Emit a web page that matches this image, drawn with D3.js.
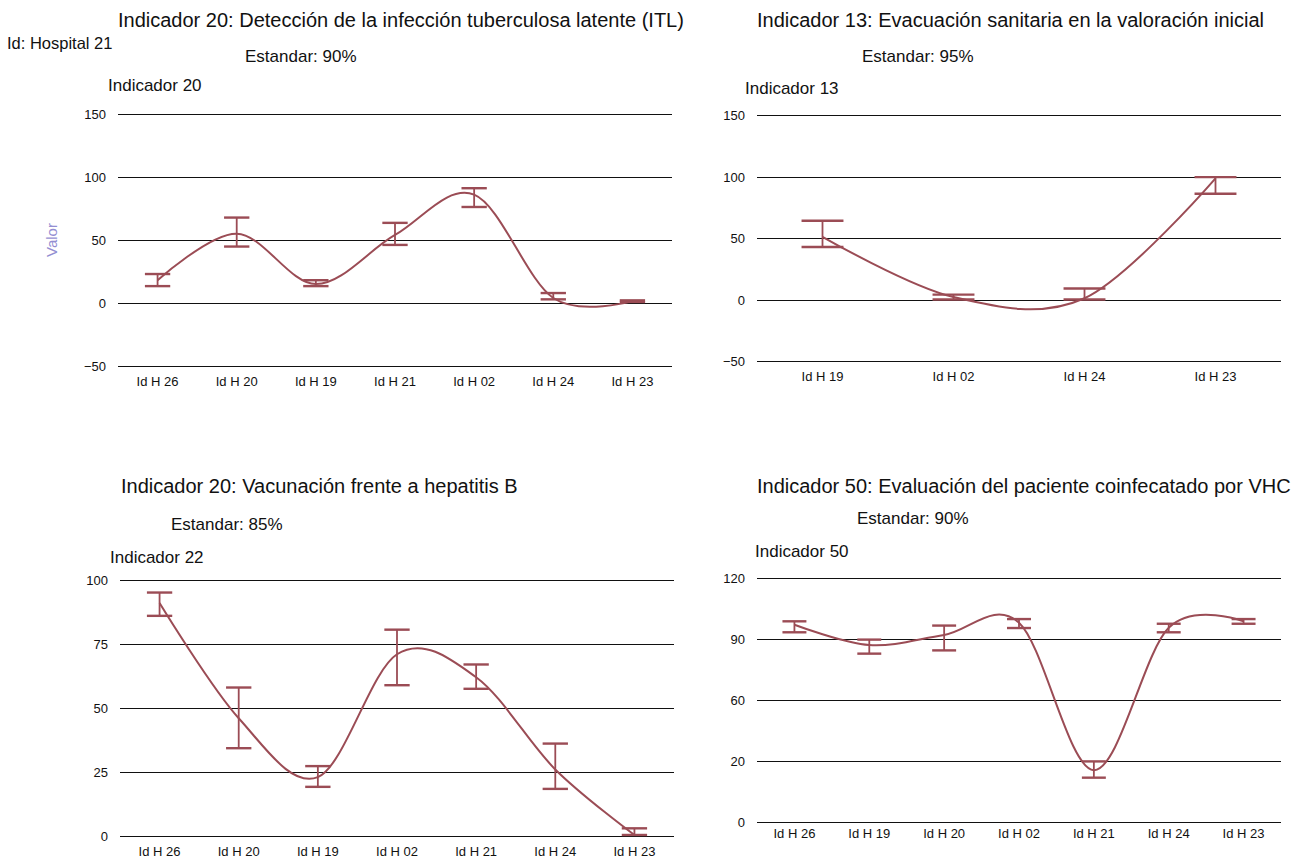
<!DOCTYPE html>
<html>
<head>
<meta charset="utf-8">
<script src="https://cdn.jsdelivr.net/npm/d3@7"></script>
<style>
  html, body { margin: 0; padding: 0; background: #fff; }
  svg { display: block; font-family: "Liberation Sans", Arial, Helvetica, sans-serif; }
</style>
</head>
<body>
<svg id="chart" width="1300" height="858"></svg>
<script>
// ---- Indicador 20: Detección de la infección tuberculosa latente (ITL)
const itlCategories = ["Id H 26", "Id H 20", "Id H 19", "Id H 21", "Id H 02", "Id H 24", "Id H 23"];
const itlValues     = [18, 55, 15, 54, 86, 4, 1.5];
const itlLow        = [13.4, 44.8, 13.4, 46.1, 76.2, 2.9, 0.8];
const itlHigh       = [23.0, 67.8, 18.1, 63.6, 91.1, 7.9, 2.1];
const itlTicks      = [-50, 0, 50, 100, 150];
const itlTickLabels = ["\u221250", "0", "50", "100", "150"];

// ---- Indicador 13: Evacuación sanitaria en la valoración inicial
const evaCategories = ["Id H 19", "Id H 02", "Id H 24", "Id H 23"];
const evaValues     = [51, 2, 1, 98.5];
const evaLow        = [42.7, 0, 0, 86];
const evaHigh       = [64, 4, 9, 99.5];
const evaTicks      = [-50, 0, 50, 100, 150];
const evaTickLabels = ["\u221250", "0", "50", "100", "150"];

// ---- Indicador 22: Vacunación frente a hepatitis B
const vhbCategories = ["Id H 26", "Id H 20", "Id H 19", "Id H 02", "Id H 21", "Id H 24", "Id H 23"];
const vhbValues     = [91, 46, 23, 71, 62, 26, 0.4];
const vhbLow        = [86.0, 34.3, 19.2, 58.9, 57.5, 18.4, 0.4];
const vhbHigh       = [95.1, 58.0, 27.3, 80.6, 67.0, 36.1, 3.0];
const vhbTicks      = [0, 25, 50, 75, 100];
const vhbTickLabels = ["0", "25", "50", "75", "100"];

// ---- Indicador 50: Evaluación del paciente coinfectado por VHC
const vhcCategories = ["Id H 26", "Id H 19", "Id H 20", "Id H 02", "Id H 21", "Id H 24", "Id H 23"];
const vhcValues     = [97, 87, 92, 98, 25.5, 95.5, 98.7];
const vhcLow        = [93.3, 82.8, 84.4, 95.4, 21.8, 93.3, 97.5];
const vhcHigh       = [98.7, 89.7, 96.6, 99.8, 29.8, 97.5, 99.8];
const vhcTicks      = [0, 30, 60, 90, 120];
const vhcTickLabels = ["0", "20", "60", "90", "120"];

const LINE_COLOR = "#9b4c55";

const panels = [
  {
    categories: itlCategories, values: itlValues, low: itlLow, high: itlHigh,
    ticks: itlTicks, tickLabels: itlTickLabels, domain: [-50, 150],
    x0: 118, x1: 672, yTop: 114, yBottom: 366, labelY: 381,
    title: "Indicador 20: Detección de la infección tuberculosa latente (ITL)", titleX: 118, titleY: 22,
    std: "Estandar: 90%", stdX: 245, stdY: 58,
    sub: "Indicador 20", subX: 108, subY: 87
  },
  {
    categories: evaCategories, values: evaValues, low: evaLow, high: evaHigh,
    ticks: evaTicks, tickLabels: evaTickLabels, domain: [-50, 150],
    x0: 757, x1: 1281, yTop: 115, yBottom: 361, labelY: 376,
    title: "Indicador 13: Evacuación sanitaria en la valoración inicial", titleX: 757, titleY: 22,
    std: "Estandar: 95%", stdX: 862, stdY: 58,
    sub: "Indicador 13", subX: 745, subY: 90
  },
  {
    categories: vhbCategories, values: vhbValues, low: vhbLow, high: vhbHigh,
    ticks: vhbTicks, tickLabels: vhbTickLabels, domain: [0, 100],
    x0: 120, x1: 674, yTop: 580, yBottom: 836, labelY: 851,
    title: "Indicador 20: Vacunación frente a hepatitis B", titleX: 121, titleY: 488,
    std: "Estandar: 85%", stdX: 171, stdY: 526,
    sub: "Indicador 22", subX: 110, subY: 559
  },
  {
    categories: vhcCategories, values: vhcValues, low: vhcLow, high: vhcHigh,
    ticks: vhcTicks, tickLabels: vhcTickLabels, domain: [0, 120],
    x0: 757, x1: 1281, yTop: 578, yBottom: 822, labelY: 833,
    title: "Indicador 50: Evaluación del paciente coinfecatado por VHC", titleX: 757, titleY: 488,
    std: "Estandar: 90%", stdX: 857, stdY: 520,
    sub: "Indicador 50", subX: 755, subY: 553
  }
];

const svg = d3.select("#chart");

// Shared label for the first panel's value axis
svg.append("text")
  .attr("transform", "translate(53,240) rotate(-90)")
  .attr("text-anchor", "middle")
  .attr("dominant-baseline", "middle")
  .attr("font-size", 15)
  .attr("fill", "#938ed2")
  .text("Valor");

svg.append("text")
  .attr("x", 7).attr("y", 45)
  .attr("dominant-baseline", "middle")
  .attr("font-size", 16.5)
  .attr("fill", "#111")
  .text("Id: Hospital 21");

panels.forEach(p => {
  const g = svg.append("g");

  const x = d3.scaleBand().domain(p.categories).range([p.x0, p.x1]);
  const y = d3.scaleLinear().domain(p.domain).range([p.yBottom, p.yTop]);

  // headings
  g.append("text").attr("x", p.titleX).attr("y", p.titleY)
    .attr("dominant-baseline", "middle").attr("font-size", 20).attr("fill", "#111")
    .text(p.title);
  g.append("text").attr("x", p.stdX).attr("y", p.stdY)
    .attr("dominant-baseline", "middle").attr("font-size", 17).attr("fill", "#111")
    .text(p.std);
  g.append("text").attr("x", p.subX).attr("y", p.subY)
    .attr("dominant-baseline", "middle").attr("font-size", 17).attr("fill", "#111")
    .text(p.sub);

  // horizontal grid lines with value labels
  const yAxis = d3.axisLeft(y)
    .tickValues(p.ticks)
    .tickSize(-(p.x1 - p.x0))
    .tickPadding(12)
    .tickFormat((d, i) => p.tickLabels[i]);
  const ya = g.append("g").attr("transform", `translate(${p.x0},0)`).call(yAxis);
  ya.select(".domain").remove();
  ya.selectAll(".tick")
    .attr("transform", d => `translate(0,${Math.round(y(d)) + 0.5})`);
  ya.selectAll(".tick line").attr("stroke", "#111").attr("stroke-width", 1.2);
  ya.selectAll(".tick text").attr("font-size", 13).attr("fill", "#111")
    .attr("font-family", "'Liberation Sans', Arial, sans-serif");

  // category labels
  const xAxis = d3.axisBottom(x).tickSize(0).tickPadding(0);
  const xa = g.append("g").attr("transform", `translate(0,${p.labelY})`).call(xAxis);
  xa.select(".domain").remove();
  xa.selectAll(".tick text").attr("font-size", 13).attr("fill", "#111")
    .attr("dy", "0.35em")
    .attr("font-family", "'Liberation Sans', Arial, sans-serif");

  const rows = p.categories.map((c, i) => ({ c, v: p.values[i], lo: p.low[i], hi: p.high[i] }));
  const cx = d => x(d.c) + x.bandwidth() / 2;
  const capHalf = x.bandwidth() * 0.16;

  // error bars
  const eb = g.append("g").attr("stroke", LINE_COLOR).attr("fill", "none");
  eb.selectAll("line.stem").data(rows).join("line").attr("class", "stem")
    .attr("x1", cx).attr("x2", cx)
    .attr("y1", d => y(d.lo)).attr("y2", d => y(d.hi))
    .attr("stroke-width", 1.8);
  eb.selectAll("line.capHi").data(rows).join("line").attr("class", "capHi")
    .attr("x1", d => cx(d) - capHalf).attr("x2", d => cx(d) + capHalf)
    .attr("y1", d => y(d.hi)).attr("y2", d => y(d.hi))
    .attr("stroke-width", 2.4);
  eb.selectAll("line.capLo").data(rows).join("line").attr("class", "capLo")
    .attr("x1", d => cx(d) - capHalf).attr("x2", d => cx(d) + capHalf)
    .attr("y1", d => y(d.lo)).attr("y2", d => y(d.lo))
    .attr("stroke-width", 2.4);

  // smoothed value line
  const line = d3.line()
    .x(cx)
    .y(d => y(d.v))
    .curve(d3.curveCardinal.tension(0));
  g.append("path").datum(rows)
    .attr("d", line)
    .attr("fill", "none")
    .attr("stroke", LINE_COLOR)
    .attr("stroke-width", 2);
});
</script>
</body>
</html>
